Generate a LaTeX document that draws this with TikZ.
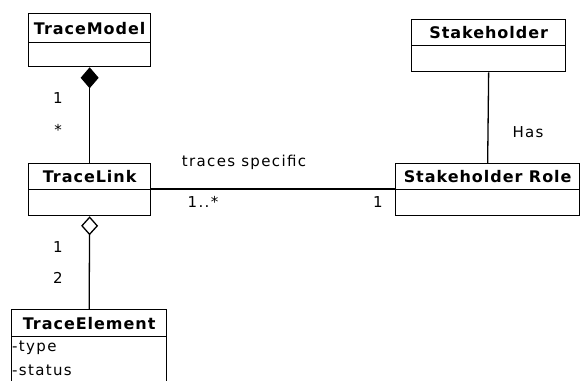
\documentclass[tikz,border=0pt]{standalone}
\usepackage{fontspec}
\setmainfont{DejaVu Sans}
\newfontfamily\hdrfont[LetterSpace=6]{DejaVu Sans}
\newfontfamily\lblfont[LetterSpace=9]{DejaVu Sans}
\usetikzlibrary{arrows.meta}
\begin{document}
\begin{tikzpicture}[x=1pt,y=-1pt,
  hdr/.style={draw,line width=1.3pt,anchor=north west,inner sep=0pt,font=\hdrfont\fontsize{16}{18}\selectfont\bfseries},
  body/.style={draw,line width=1.3pt,anchor=north west,inner sep=0pt},
  lbl/.style={font=\lblfont\fontsize{15}{17}\selectfont,inner sep=0pt},
  conn/.style={line width=1.3pt}]
\useasboundingbox (0,0) rectangle (580,380);
\fill[white] (0,0) rectangle (580,380);
% TraceModel
\node[hdr,minimum width=122pt,minimum height=29pt] (tm) at (28,13) {TraceModel};
\node[body,minimum width=122pt,minimum height=24pt] (tmb) at (28,42) {};
% TraceLink
\node[hdr,minimum width=122pt,minimum height=26pt] (tl) at (28,163) {TraceLink};
\node[body,minimum width=122pt,minimum height=26pt] (tlb) at (28,189) {};
% TraceElement
\node[hdr,minimum width=155pt,minimum height=27pt] (te) at (11,309) {TraceElement};
\node[body,minimum width=155pt,minimum height=60pt] (teb) at (11,336) {};
\node[lbl,anchor=west] (tet) at (12,348) {-type};
\node[lbl,anchor=west] (tes) at (12,370) {-status};
% Stakeholder
\node[hdr,minimum width=154pt,minimum height=26pt] (sh) at (411,19) {Stakeholder};
\node[body,minimum width=154pt,minimum height=26pt] (shb) at (411,45) {};
% Stakeholder Role
\node[hdr,minimum width=184pt,minimum height=26pt] (sr) at (395,163) {Stakeholder Role};
\node[body,minimum width=184pt,minimum height=26pt] (srb) at (395,189) {};
% connectors
\draw[conn,-{Diamond[length=21pt,width=18pt]}] (tl.north) -- (tmb.south);
\draw[conn,-{Diamond[open,length=19pt,width=17pt]}] (te.north) -- (tlb.south);
\draw[conn] (shb.south) -- (sr.north);
\draw[conn] (tlb.north east) -- (srb.north west);
% labels
\node[lbl] (m1) at (58,98) {1};
\node[lbl] (m2) at (58,130) {*};
\node[lbl] (m3) at (58,247) {1};
\node[lbl] (m4) at (58,278) {2};
\node[lbl] (ts) at (244,162) {traces specific};
\node[lbl] (m5) at (203,202) {1..*};
\node[lbl] (m6) at (378,202) {1};
\node[lbl] (has) at (528,132) {Has};
\end{tikzpicture}
\end{document}
